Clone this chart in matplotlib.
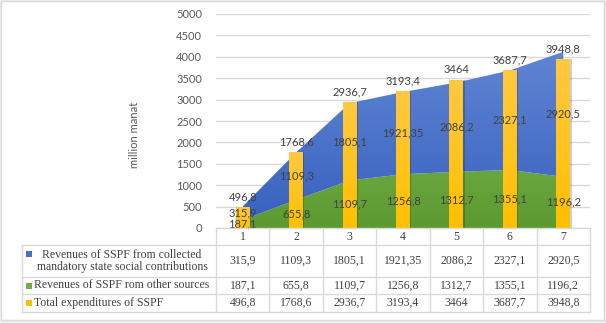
import numpy as np
import matplotlib.pyplot as plt
from matplotlib.colors import LinearSegmentedColormap
from matplotlib.patches import Patch

# SSPF revenues and expenditures, million manat
periods = ["1", "2", "3", "4", "5", "6", "7"]
collected = [315.9, 1109.3, 1805.1, 1921.35, 2086.2, 2327.1, 2920.5]
other = [187.1, 655.8, 1109.7, 1256.8, 1312.7, 1355.1, 1196.2]
expenditures = [496.8, 1768.6, 2936.7, 3193.4, 3464, 3687.7, 3948.8]

row_labels = [
    "Revenues of SSPF from collected\nmandatory state social contributions",
    "Revenues of SSPF rom other sources",
    "Total expenditures of SSPF",
]
row_values = [collected, other, expenditures]
row_colors = ["#4472C4", "#70AD47", "#FFC000"]

W, H = 606, 323
SANS = ["Lato", "DejaVu Sans"]
SERIF = ["Liberation Serif", "DejaVu Serif"]
GRID = "#D9D9D9"


def fmt(v):
    return f"{v:g}".replace(".", ",")


def gradient_fill(ax, artist, top_color, bottom_color, y0, y1, x0, x1, zorder):
    cmap = LinearSegmentedColormap.from_list("g", [bottom_color, top_color])
    grad = np.linspace(0, 1, 256).reshape(-1, 1)
    im = ax.imshow(grad, cmap=cmap, aspect="auto", origin="lower",
                   extent=[x0, x1, y0, y1], zorder=zorder, interpolation="bilinear")
    if isinstance(artist, Patch):
        im.set_clip_path(artist)
    else:
        im.set_clip_path(artist.get_paths()[0], transform=ax.transData)
    artist.set_visible(False)


fig = plt.figure(figsize=(W / 100, H / 100), dpi=100, facecolor="#EFEFEF")

# white panel with a thin frame
back = fig.add_axes([0, 0, 1, 1])
back.set_xlim(0, W)
back.set_ylim(H, 0)
back.axis("off")
back.add_patch(plt.Rectangle((1, 1), W - 3, H - 4, facecolor="white",
                             edgecolor=GRID, linewidth=1))

# chart area in pixel coordinates
left, right, top, bottom = 216, 590, 14, 228
ax = fig.add_axes([left / W, 1 - bottom / H, (right - left) / W, (bottom - top) / H])
ax.patch.set_alpha(0)
x = np.arange(len(periods))

other_arr = np.array(other)
total_rev = other_arr + np.array(collected)

# stacked areas
green = ax.fill_between(x, 0, other_arr, linewidth=0)
gradient_fill(ax, green, "#84BF57", "#5C9A31", 0, total_rev.max(), x[0], x[-1], 2)
blue = ax.fill_between(x, other_arr, total_rev, linewidth=0)
gradient_fill(ax, blue, "#6085D3", "#3761BF", 0, total_rev.max(), x[0], x[-1], 2)

# expenditure bars with a faint shadow on the right
bw = 0.26
for i in x:
    ax.bar(i + 0.025, expenditures[i], width=bw, color="#00000030", zorder=2.9, linewidth=0)
    b = ax.bar(i, expenditures[i], width=bw, linewidth=0)[0]
    gradient_fill(ax, b, "#FFC940", "#FFBF00", 0, expenditures[i],
                  i - bw / 2, i + bw / 2, 3)

ax.set_xlim(-0.5, len(periods) - 0.5)
ax.set_ylim(0, 5000)
ax.set_yticks(np.arange(0, 5001, 500))
ax.yaxis.grid(True, color=GRID, linewidth=1)
ax.set_axisbelow(True)
ax.set_xticks([])
for s in ax.spines.values():
    s.set_visible(False)
ax.tick_params(axis="y", length=0, pad=10, labelcolor="#595959", labelsize=8)
for lab in ax.get_yticklabels():
    lab.set_family(SANS)

# data labels
lab_kw = dict(ha="center", fontsize=8, color="#404040", family=SANS, zorder=5)
for i in x:
    ax.text(i, expenditures[i] + 110, fmt(expenditures[i]), va="bottom", **lab_kw)
    ax.text(i, other[i] / 2, fmt(other[i]), va="center", **lab_kw)
    ax.text(i, other[i] + collected[i] / 2, fmt(collected[i]), va="center", **lab_kw)

fig.text(135 / W, 1 - 135 / H, "million manat", rotation=90, ha="center", va="center",
         fontsize=8, color="#595959", family=SANS)

# data table drawn in pixel coordinates
tab = fig.add_axes([0, 0, 1, 1])
tab.set_xlim(0, W)
tab.set_ylim(H, 0)
tab.axis("off")
tab.patch.set_alpha(0)

tab_left = 22
col_w = (right - left) / len(periods)
rows_y = [228, 245, 277, 294, 312]
line_kw = dict(color=GRID, linewidth=1)
for y in rows_y:
    x0 = left if y == rows_y[0] else tab_left
    tab.plot([x0, right], [y, y], **line_kw)
tab.plot([tab_left, tab_left], [rows_y[1], rows_y[-1]], **line_kw)
for k in range(len(periods) + 1):
    xx = left + k * col_w
    tab.plot([xx, xx], [rows_y[0], rows_y[-1]], **line_kw)

cell_kw = dict(ha="center", va="center", fontsize=8.5, color="#404040", family=SERIF)
for k, p in enumerate(periods):
    tab.text(left + (k + 0.5) * col_w, (rows_y[0] + rows_y[1]) / 2, p, **cell_kw)
for r, (label, vals, col) in enumerate(zip(row_labels, row_values, row_colors)):
    yc = (rows_y[r + 1] + rows_y[r + 2]) / 2
    for k, v in enumerate(vals):
        tab.text(left + (k + 0.5) * col_w, yc, fmt(v), **cell_kw)
    key_y = yc - 7 if r == 0 else yc
    tab.add_patch(plt.Rectangle((26, key_y - 3), 6, 6, color=col, linewidth=0))
    if r == 0:
        tab.text(122, yc, label, ha="center", va="center", fontsize=8.5,
                 color="#404040", family=SERIF, linespacing=1.05)
    else:
        tab.text(34, yc, label, ha="left", va="center", fontsize=8.5,
                 color="#404040", family=SERIF)

fig.savefig("out.png", dpi=100, facecolor=fig.get_facecolor())
